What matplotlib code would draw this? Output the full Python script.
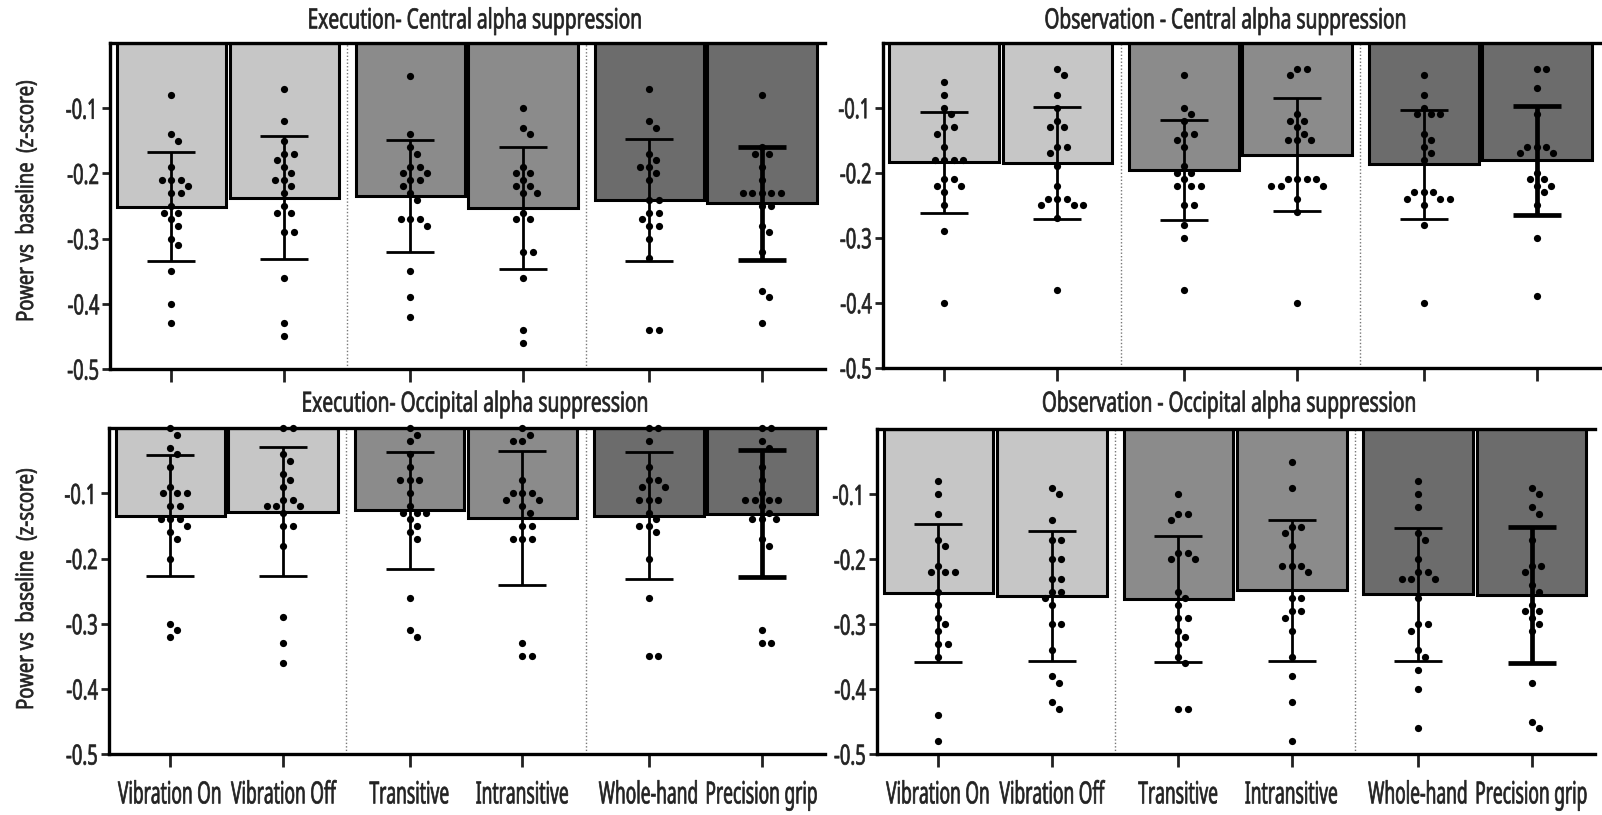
import numpy as np
import matplotlib.pyplot as plt
from matplotlib.patheffects import AbstractPathEffect
from matplotlib.transforms import Affine2D

plt.rcParams['font.family'] = ['Noto Sans', 'DejaVu Sans']

conditions = ['Vibration On', 'Vibration Off', 'Transitive', 'Intransitive',
              'Whole-hand', 'Precision grip']
xpos = [0, 1, 2.12, 3.12, 4.24, 5.24]
bar_colors = ['#c6c6c6', '#c6c6c6', '#8b8b8b', '#8b8b8b', '#6c6c6c', '#6c6c6c']
err_lw = [2.0, 2.0, 2.0, 2.0, 2.0, 3.4]

# Execution - central
exec_central_mean = [-0.251, -0.237, -0.235, -0.253, -0.241, -0.246]
exec_central_sd = [0.0835, 0.095, 0.086, 0.0935, 0.094, 0.0865]
exec_central_pts = [
    [-0.08, -0.14, -0.15, -0.19, -0.21, -0.21, -0.21, -0.22, -0.23, -0.23, -0.25,
     -0.26, -0.26, -0.27, -0.28, -0.30, -0.31, -0.35, -0.40, -0.43],
    [-0.07, -0.12, -0.15, -0.17, -0.17, -0.18, -0.19, -0.20, -0.21, -0.21, -0.22,
     -0.23, -0.25, -0.26, -0.26, -0.29, -0.29, -0.36, -0.43, -0.45],
    [-0.05, -0.14, -0.16, -0.17, -0.19, -0.19, -0.20, -0.20, -0.21, -0.21, -0.22,
     -0.23, -0.24, -0.27, -0.27, -0.27, -0.28, -0.35, -0.39, -0.42],
    [-0.10, -0.13, -0.14, -0.19, -0.20, -0.20, -0.21, -0.22, -0.22, -0.23, -0.23,
     -0.26, -0.27, -0.27, -0.32, -0.32, -0.36, -0.44, -0.46],
    [-0.07, -0.12, -0.13, -0.17, -0.18, -0.19, -0.19, -0.20, -0.21, -0.24, -0.24,
     -0.26, -0.26, -0.27, -0.28, -0.28, -0.30, -0.33, -0.44, -0.44],
    [-0.08, -0.16, -0.17, -0.17, -0.19, -0.21, -0.23, -0.23, -0.23, -0.23, -0.23,
     -0.25, -0.25, -0.28, -0.29, -0.32, -0.38, -0.39, -0.43],
]

# Observation - central
obs_central_mean = [-0.184, -0.185, -0.196, -0.172, -0.187, -0.181]
obs_central_sd = [0.0775, 0.0855, 0.077, 0.0865, 0.0835, 0.0835]
obs_central_pts = [
    [-0.06, -0.08, -0.10, -0.11, -0.13, -0.13, -0.14, -0.16, -0.18, -0.18, -0.18,
     -0.18, -0.21, -0.21, -0.22, -0.22, -0.23, -0.25, -0.29, -0.40],
    [-0.04, -0.05, -0.08, -0.10, -0.12, -0.13, -0.13, -0.16, -0.16, -0.17, -0.19,
     -0.22, -0.24, -0.24, -0.24, -0.25, -0.25, -0.25, -0.27, -0.38],
    [-0.05, -0.10, -0.11, -0.12, -0.14, -0.14, -0.15, -0.16, -0.19, -0.20, -0.20,
     -0.21, -0.22, -0.22, -0.22, -0.25, -0.25, -0.28, -0.30, -0.38],
    [-0.04, -0.04, -0.05, -0.11, -0.12, -0.12, -0.13, -0.14, -0.15, -0.15, -0.15,
     -0.21, -0.21, -0.21, -0.21, -0.22, -0.22, -0.22, -0.24, -0.26, -0.40],
    [-0.05, -0.08, -0.10, -0.11, -0.11, -0.11, -0.14, -0.15, -0.16, -0.17, -0.18,
     -0.23, -0.23, -0.23, -0.24, -0.24, -0.24, -0.25, -0.28, -0.40],
    [-0.04, -0.04, -0.07, -0.11, -0.16, -0.16, -0.16, -0.17, -0.17, -0.20, -0.21,
     -0.21, -0.22, -0.22, -0.23, -0.25, -0.30, -0.39],
]

# Execution - occipital
exec_occ_mean = [-0.134, -0.128, -0.126, -0.138, -0.134, -0.131]
exec_occ_sd = [0.093, 0.0995, 0.09, 0.103, 0.098, 0.098]
exec_occ_pts = [
    [0.00, -0.01, -0.03, -0.04, -0.06, -0.09, -0.10, -0.10, -0.10, -0.12, -0.12,
     -0.14, -0.14, -0.14, -0.15, -0.16, -0.17, -0.20, -0.30, -0.31, -0.32],
    [0.00, 0.00, -0.04, -0.05, -0.07, -0.08, -0.09, -0.11, -0.11, -0.12, -0.12,
     -0.12, -0.13, -0.15, -0.15, -0.18, -0.29, -0.33, -0.36],
    [0.00, -0.01, -0.02, -0.04, -0.06, -0.08, -0.08, -0.08, -0.10, -0.12, -0.13,
     -0.13, -0.13, -0.14, -0.15, -0.16, -0.17, -0.26, -0.31, -0.32],
    [0.00, -0.01, -0.02, -0.02, -0.08, -0.10, -0.10, -0.10, -0.11, -0.11, -0.12,
     -0.13, -0.15, -0.15, -0.17, -0.17, -0.17, -0.33, -0.35, -0.35],
    [0.00, 0.00, -0.02, -0.06, -0.08, -0.08, -0.09, -0.09, -0.11, -0.11, -0.11,
     -0.13, -0.14, -0.15, -0.15, -0.16, -0.20, -0.26, -0.35, -0.35],
    [0.00, 0.00, -0.02, -0.03, -0.06, -0.08, -0.10, -0.11, -0.11, -0.11, -0.11,
     -0.12, -0.13, -0.14, -0.14, -0.14, -0.17, -0.18, -0.31, -0.33, -0.33],
]

# Observation - occipital
obs_occ_mean = [-0.252, -0.257, -0.261, -0.248, -0.254, -0.255]
obs_occ_sd = [0.106, 0.1005, 0.097, 0.108, 0.1025, 0.105]
obs_occ_pts = [
    [-0.08, -0.10, -0.13, -0.17, -0.18, -0.21, -0.22, -0.22, -0.22, -0.25, -0.27,
     -0.29, -0.30, -0.31, -0.33, -0.33, -0.35, -0.44, -0.48],
    [-0.09, -0.10, -0.14, -0.17, -0.17, -0.20, -0.20, -0.23, -0.23, -0.25, -0.25,
     -0.26, -0.27, -0.30, -0.30, -0.34, -0.38, -0.39, -0.42, -0.43],
    [-0.10, -0.13, -0.13, -0.14, -0.19, -0.19, -0.20, -0.20, -0.25, -0.26, -0.27,
     -0.29, -0.29, -0.31, -0.32, -0.33, -0.35, -0.36, -0.43, -0.43],
    [-0.05, -0.09, -0.15, -0.15, -0.16, -0.18, -0.21, -0.21, -0.21, -0.22, -0.26,
     -0.26, -0.28, -0.28, -0.29, -0.31, -0.35, -0.38, -0.42, -0.48],
    [-0.08, -0.10, -0.12, -0.16, -0.17, -0.20, -0.22, -0.22, -0.23, -0.23, -0.23,
     -0.26, -0.30, -0.30, -0.31, -0.34, -0.35, -0.37, -0.40, -0.46],
    [-0.09, -0.10, -0.12, -0.13, -0.17, -0.21, -0.21, -0.22, -0.24, -0.25, -0.27,
     -0.28, -0.28, -0.29, -0.30, -0.31, -0.39, -0.45, -0.46],
]

panels = [
    ('Execution- Central alpha suppression', exec_central_mean, exec_central_sd, exec_central_pts),
    ('Observation - Central alpha suppression', obs_central_mean, obs_central_sd, obs_central_pts),
    ('Execution- Occipital alpha suppression', exec_occ_mean, exec_occ_sd, exec_occ_pts),
    ('Observation - Occipital alpha suppression', obs_occ_mean, obs_occ_sd, obs_occ_pts),
]

# axes boxes (left, bottom, width, height) and title anchors in figure fractions
boxes = [
    [0.0687, 0.5472, 0.4463, 0.4000],
    [0.5510, 0.5488, 0.4478, 0.3988],
    [0.0679, 0.0748, 0.4471, 0.3998],
    [0.5473, 0.0748, 0.4483, 0.3984],
]
title_xy = [(0.2965, 0.9652), (0.7650, 0.9652), (0.2965, 0.4949), (0.7672, 0.4949)]

PX_X = 112.8   # pixels per x unit
PX_Y = 650.0   # pixels per y unit


class Squeeze(AbstractPathEffect):
    """Narrow (and slightly embolden) the glyphs for a condensed look."""

    def __init__(self, sx=0.75, anchor='center', stroke=0.5):
        super().__init__()
        self.sx = sx
        self.anchor = anchor
        self.stroke = stroke

    def draw_path(self, renderer, gc, tpath, affine, rgbFace=None):
        xs = tpath.vertices[:, 0]
        if len(xs):
            if self.anchor == 'right':
                cx = xs.max()
            elif self.anchor == 'left':
                cx = xs.min()
            else:
                cx = 0.5 * (xs.min() + xs.max())
            affine = Affine2D().translate(-cx, 0).scale(self.sx, 1).translate(cx, 0) + affine
        gc0 = renderer.new_gc()
        gc0.copy_properties(gc)
        if self.stroke and rgbFace is not None:
            gc0.set_linewidth(self.stroke)
            gc0.set_foreground(rgbFace)
            gc0.set_joinstyle('round')
        renderer.draw_path(gc0, tpath, affine, rgbFace)
        gc0.restore()


def swarm(values, dist=9.5, step=0.5):
    """Simple beeswarm: push each dot sideways until it clears the others."""
    placed = []
    offsets = []
    for v in values:
        y = v * PX_Y
        k = 0
        while True:
            cands = [0.0] if k == 0 else [k * step, -k * step]
            ok = None
            for c in cands:
                if all((c - px) ** 2 + (y - py) ** 2 >= dist ** 2 for px, py in placed):
                    ok = c
                    break
            if ok is not None:
                placed.append((ok, y))
                offsets.append(ok / PX_X)
                break
            k += 1
    return np.array(offsets)


fig = plt.figure(figsize=(16.02, 8.15), dpi=100)

for i, (title, means, sds, pts) in enumerate(panels):
    ax = fig.add_axes(boxes[i])
    ax.bar(xpos, means, width=0.97, color=bar_colors, edgecolor='black',
           linewidth=2.2, zorder=2)
    for j in range(6):
        ax.errorbar(xpos[j], means[j], yerr=sds[j], fmt='none', ecolor='black',
                    elinewidth=err_lw[j], capsize=17, capthick=err_lw[j], zorder=3)
        vals = np.array(pts[j])
        ax.scatter(xpos[j] + swarm(vals), vals, s=27, color='black',
                   zorder=4, clip_on=False, linewidths=0)
    for sx in [(xpos[1] + xpos[2]) / 2, (xpos[3] + xpos[4]) / 2]:
        ax.axvline(sx, color='#777777', linestyle=(0, (1, 1.5)), linewidth=1.0, zorder=1)

    ax.set_xlim(-0.545, 5.80)
    ax.set_ylim(-0.5, 0)
    ax.set_yticks([-0.1, -0.2, -0.3, -0.4, -0.5])
    ax.set_yticklabels(['-0.1', '-0.2', '-0.3', '-0.4', '-0.5'])
    ax.set_xticks(xpos)
    ax.spines['right'].set_visible(False)
    for side in ['left', 'bottom', 'top']:
        ax.spines[side].set_linewidth(2.4)
    ax.tick_params(axis='y', length=6, width=2, pad=1.5, labelsize=20, colors='#222222')
    ax.tick_params(axis='x', length=9, width=2, pad=10, labelsize=22, colors='#222222')
    if i >= 2:
        ax.set_xticklabels(conditions)
    else:
        ax.set_xticklabels([])
    for tick in ax.yaxis.get_major_ticks():
        tick.label1.set_path_effects([Squeeze(0.66, 'right')])
    for tick in ax.xaxis.get_major_ticks():
        tick.label1.set_path_effects([Squeeze(0.57)])

    fig.text(title_xy[i][0], title_xy[i][1], title, ha='center', va='baseline',
             fontsize=20, color='#222222', path_effects=[Squeeze(0.69)])

for yc in [1 - 201 / 815, 1 - 589 / 815]:
    fig.text(33 / 1602, yc, 'Power vs  baseline  (z-score)', rotation=90,
             rotation_mode='anchor', ha='center', va='baseline', fontsize=17,
             color='#222222', path_effects=[Squeeze(0.78)])

fig.savefig('out.png', dpi=100)
